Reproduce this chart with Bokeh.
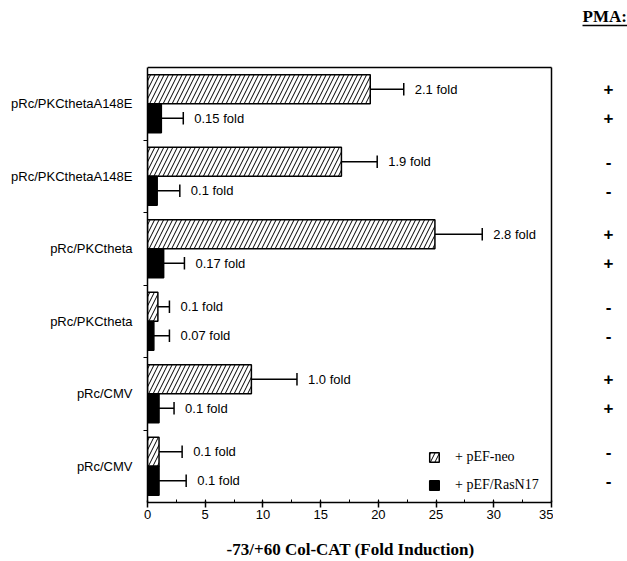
from bokeh.plotting import figure
from bokeh.layouts import row
from bokeh.models import (FixedTicker, SingleIntervalTicker, Legend, LegendItem,
                          ColumnDataSource, Range1d)
from bokeh.core.properties import value
from bokeh.embed import file_html
from bokeh.resources import INLINE

# ---- data (top to bottom) ----
categories = ["pRc/PKCthetaA148E", "pRc/PKCthetaA148E", "pRc/PKCtheta",
              "pRc/PKCtheta", "pRc/CMV", "pRc/CMV"]
neo_values = [19.3, 16.8, 24.9, 0.9, 9.0, 1.0]
neo_err = [2.9, 3.1, 4.1, 1.0, 3.95, 2.0]
ras_values = [1.2, 0.84, 1.4, 0.55, 1.0, 1.0]
ras_err = [1.9, 1.96, 1.8, 1.35, 1.3, 2.35]
neo_labels = ["2.1 fold", "1.9 fold", "2.8 fold", "0.1 fold", "1.0 fold", "0.1 fold"]
ras_labels = ["0.15 fold", "0.1 fold", "0.17 fold", "0.07 fold", "0.1 fold", "0.1 fold"]
pma_neo = ["+", "-", "+", "-", "+", "-"]
pma_ras = ["+", "-", "+", "-", "+", "-"]
x_max = 35
x_title = "-73/+60 Col-CAT (Fold Induction)"
pma_title = "PMA:"

n = len(categories)
centers = [n - i - 0.5 for i in range(n)]
bar_h = 0.4
cap = 0.085

# layout (pixels)
H = 561
W1, W2 = 553, 74
left_px, top_px, bottom_px = 147, 67, 59
frame_px = 404.0                      # pixels for 0..35
grp_px = (H - top_px - bottom_px) / n
x_hi = x_max * (W1 - left_px) / frame_px
y_hi = n + top_px / grp_px

neo_y = [c + bar_h / 2 for c in centers]
ras_y = [c - bar_h / 2 for c in centers]
neo_end = [v + e for v, e in zip(neo_values, neo_err)]
ras_end = [v + e for v, e in zip(ras_values, ras_err)]

pma_x = 55      # column centre inside the side panel (px)
head_x = 29

neo_src = ColumnDataSource(dict(y=neo_y, v=neo_values, end=neo_end, label=neo_labels,
                                pma=pma_neo, y0=[y - cap for y in neo_y],
                                y1=[y + cap for y in neo_y], px=[pma_x] * n))
ras_src = ColumnDataSource(dict(y=ras_y, v=ras_values, end=ras_end, label=ras_labels,
                                pma=pma_ras, y0=[y - cap for y in ras_y],
                                y1=[y + cap for y in ras_y], px=[pma_x] * n))

p = figure(width=W1, height=H, output_backend="svg", toolbar_location=None,
           x_range=Range1d(0, x_hi), y_range=Range1d(0, y_hi),
           min_border_left=left_px, min_border_right=0, min_border_top=0,
           min_border_bottom=bottom_px)
p.background_fill_color = "white"
p.border_fill_color = "white"
p.grid.visible = False
p.outline_line_color = None

# top and right edges of the chart box
p.segment(x0=[0, x_max], y0=[n, 0], x1=[x_max, x_max], y1=[n, n],
          line_color="black", line_width=1.5)

neo_r = p.hbar(y="y", left=0, right="v", height=bar_h, source=neo_src,
               fill_color="white", line_color="black", line_width=1.5,
               hatch_pattern="/", hatch_color="black", hatch_scale=9, hatch_weight=1)
ras_r = p.hbar(y="y", left=0, right="v", height=bar_h, source=ras_src,
               fill_color="black", line_color="black", line_width=1.5)

for src in (neo_src, ras_src):
    p.segment(x0="v", y0="y", x1="end", y1="y", source=src, line_color="black", line_width=1.5)
    p.segment(x0="end", y0="y0", x1="end", y1="y1", source=src, line_color="black", line_width=1.5)
    p.text(x="end", y="y", text="label", source=src, x_offset=11, text_baseline="middle",
           text_font=value("Liberation Sans"), text_font_size="13px", text_color="black")

# x axis
p.xaxis.bounds = (0, x_max)
p.xaxis.ticker = SingleIntervalTicker(interval=5, num_minor_ticks=2)
p.xaxis.major_label_text_font = "Liberation Sans"
p.xaxis.major_label_text_font_size = "13px"
p.xaxis.major_label_text_color = "black"
p.xaxis.major_tick_in = 2
p.xaxis.major_tick_out = 5
p.xaxis.minor_tick_in = 3
p.xaxis.minor_tick_out = 0
p.xaxis.major_label_standoff = 2
p.xaxis.axis_line_width = 1.5
p.xaxis.major_tick_line_width = 1.5
p.xaxis.axis_label = x_title
p.xaxis.axis_label_text_font = "Liberation Serif"
p.xaxis.axis_label_text_font_style = "bold"
p.xaxis.axis_label_text_font_size = "17px"
p.xaxis.axis_label_text_color = "black"
p.xaxis.axis_label_standoff = 18

# y axis
p.yaxis.bounds = (0, n)
p.yaxis.ticker = FixedTicker(ticks=centers, minor_ticks=[float(k) for k in range(1, n)])
p.yaxis.major_label_overrides = {c: lab for c, lab in zip(centers, categories)}
p.yaxis.major_tick_in = 0
p.yaxis.major_tick_out = 0
p.yaxis.minor_tick_in = 0
p.yaxis.minor_tick_out = 4
p.yaxis.major_label_standoff = 11
p.yaxis.major_label_text_font = "Liberation Sans"
p.yaxis.major_label_text_font_size = "13px"
p.yaxis.major_label_text_color = "black"
p.yaxis.axis_line_width = 1.5

legend = Legend(items=[LegendItem(label="+ pEF-neo", renderers=[neo_r]),
                       LegendItem(label="+ pEF/RasN17", renderers=[ras_r])],
                location=(281, 9), border_line_color=None, background_fill_alpha=0,
                glyph_width=12, glyph_height=12, label_standoff=15, spacing=12,
                padding=0, margin=0, label_text_font="Liberation Serif",
                label_text_font_size="14px", label_text_color="black")
p.add_layout(legend)

# side panel with the PMA column (same vertical scale as the chart)
head_y = n + (top_px - 15.5) / grp_px
line_y = n + (top_px - 25) / grp_px

q = figure(width=W2, height=H, output_backend="svg", toolbar_location=None,
           x_range=Range1d(0, W2), y_range=Range1d(0, y_hi),
           x_axis_location=None, y_axis_location=None,
           min_border_left=0, min_border_right=0, min_border_top=0,
           min_border_bottom=bottom_px)
q.grid.visible = False
q.outline_line_color = None
q.background_fill_color = "white"
q.border_fill_color = "white"
for src in (neo_src, ras_src):
    q.text(x="px", y="y", text="pma", source=src, text_align="center",
           text_baseline="middle", text_font=value("Liberation Sans"),
           text_font_size="17px", text_font_style="bold", text_color="black")
q.text(x=[head_x], y=[head_y], text=[pma_title], text_font=value("Liberation Serif"),
       text_font_style="bold", text_font_size="17px", text_baseline="middle",
       text_color="black")
q.segment(x0=[head_x], y0=[line_y], x1=[W2], y1=[line_y], line_color="black", line_width=1.3)

layout = row(p, q)
open("out.html", "w").write(file_html(layout, INLINE))
